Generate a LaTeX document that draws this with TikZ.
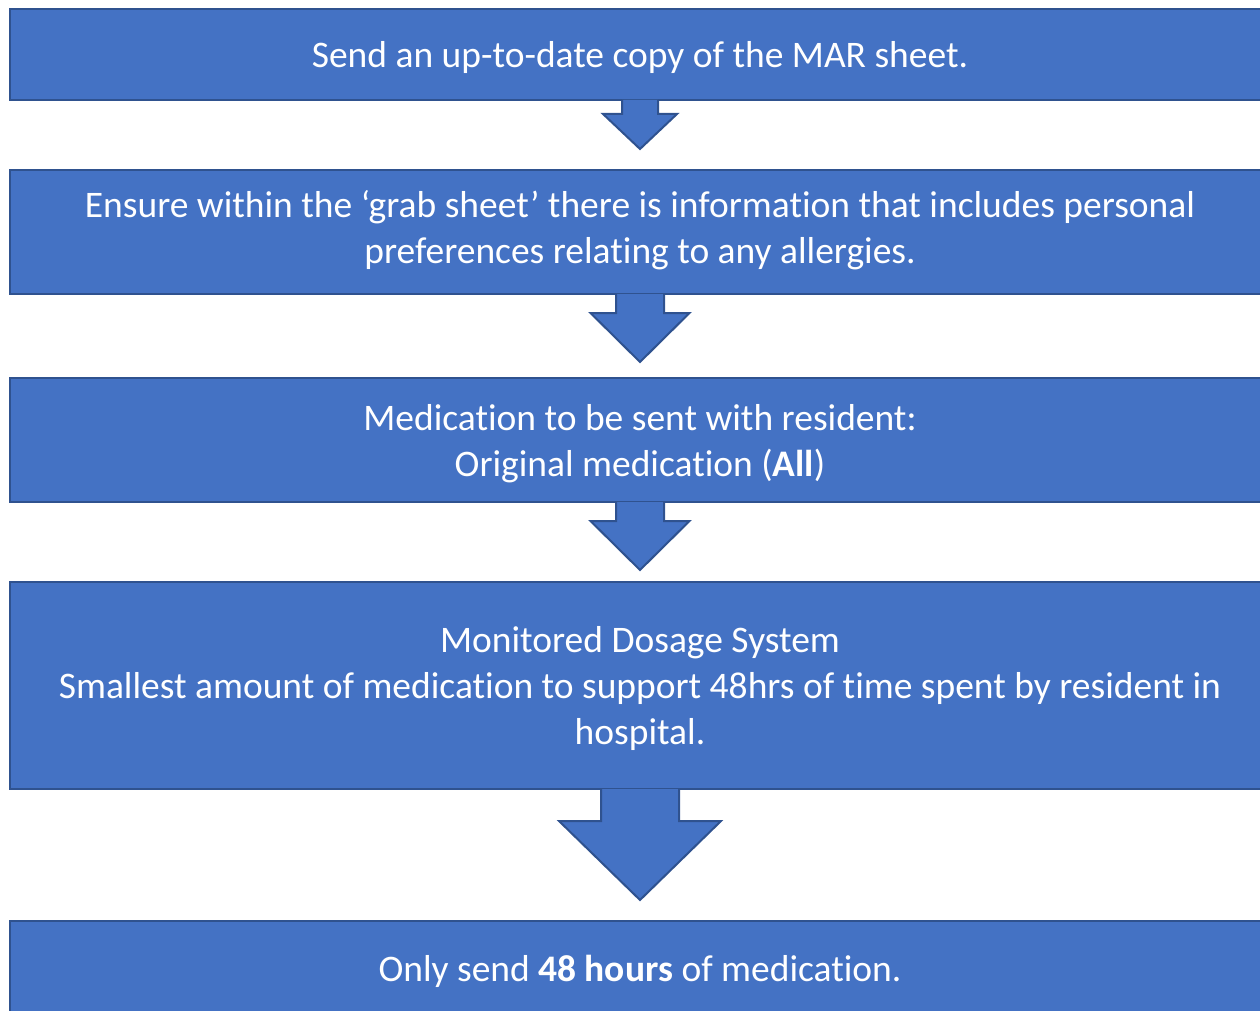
\documentclass[tikz,border=0pt]{standalone}
\usepackage{fontspec}
\setmainfont{Carlito}[Ligatures=NoCommon]
\usetikzlibrary{calc}
\definecolor{boxfill}{HTML}{4472C4}
\definecolor{boxline}{HTML}{2F528F}
\tikzset{
  stepbox/.style={draw=boxline, fill=boxfill, line width=2pt, text=white,
    minimum width=1260pt, inner sep=0pt, align=center, anchor=north,
    font=\fontsize{37.5}{46}\selectfont},
  blockarrow/.style={draw=boxline, fill=boxfill, line width=2pt, line join=miter}
}
\newcommand\shiftline[2]{\raisebox{#1}[\height][\depth]{#2}}
\newcommand\downarrowshape[5]{% node, shaft half width, head half width, head offset, tip offset
  \path[blockarrow] ($(#1.south)+(-#2,1pt)$) -- ($(#1.south)+(-#2,-#4)$) -- ($(#1.south)+(-#3,-#4)$)
    -- ($(#1.south)+(0,-#5)$) -- ($(#1.south)+(#3,-#4)$) -- ($(#1.south)+(#2,-#4)$) -- ($(#1.south)+(#2,1pt)$);}
\begin{document}
\begin{tikzpicture}[x=1pt,y=1pt]
\useasboundingbox (0,0) rectangle (1260,-1011);
\clip (0,0) rectangle (1260,-1011);
\node[stepbox, minimum height=91pt] (b1) at (640,-8) {\shiftline{-3pt}{Send an up-to-date copy of the MAR sheet.}};
\node[stepbox, minimum height=124pt] (b2) at (640,-169) {\shiftline{2pt}{Ensure within the ‘grab sheet’ there is information that includes personal}\\\shiftline{2pt}{preferences relating to any allergies.}};
\node[stepbox, minimum height=124pt] (b3) at (640,-377) {\shiftline{-3.5pt}{Medication to be sent with resident:}\\\shiftline{-3.5pt}{Original medication (\textbf{All})}};
\node[stepbox, minimum height=207pt] (b4) at (640,-581) {\shiftline{-3pt}{Monitored Dosage System}\\\shiftline{-3pt}{Smallest amount of medication to support 48hrs of time spent by resident in}\\\shiftline{-3pt}{hospital.}};
\node[stepbox, minimum height=100pt] (b5) at (640,-920) {Only send \textbf{48 hours} of medication.};
\downarrowshape{b1}{18pt}{37pt}{13pt}{48pt}
\downarrowshape{b2}{24pt}{49.5pt}{18pt}{67pt}
\downarrowshape{b3}{24pt}{49.5pt}{18pt}{67pt}
\downarrowshape{b4}{39pt}{81pt}{31pt}{110pt}
\end{tikzpicture}
\end{document}
